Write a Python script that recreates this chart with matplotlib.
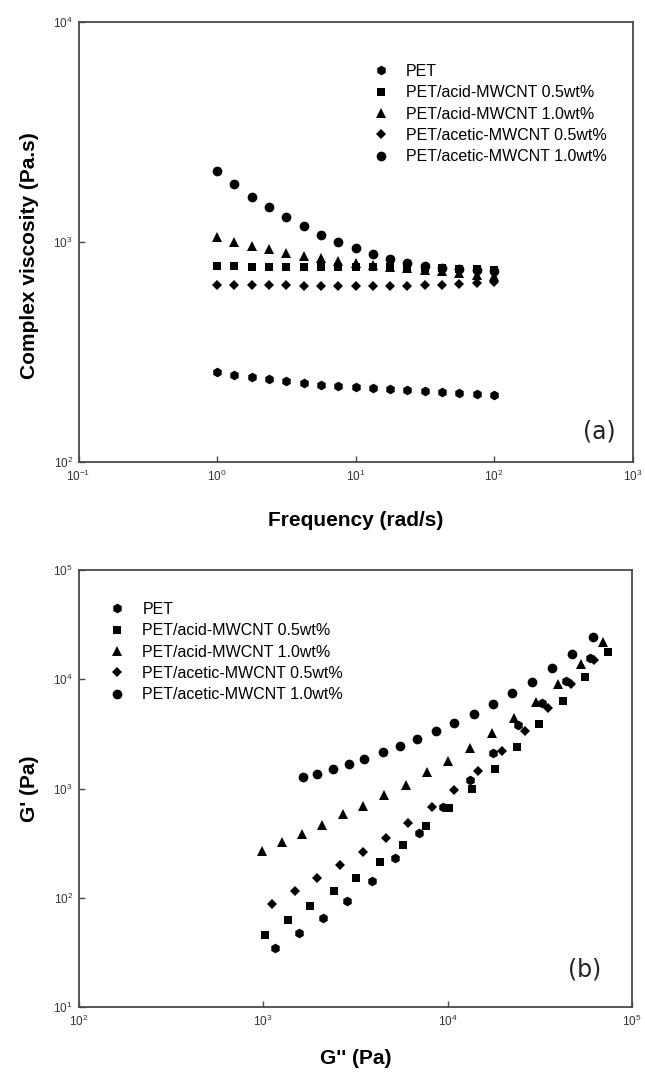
import matplotlib
matplotlib.use("Agg")
import matplotlib.pyplot as plt
from matplotlib.ticker import LogLocator, NullLocator

plt.rcParams['font.family'] = ['Liberation Sans', 'DejaVu Sans']
plt.rcParams['mathtext.fontset'] = 'custom'
plt.rcParams['mathtext.rm'] = 'Liberation Sans'
plt.rcParams['mathtext.it'] = 'Liberation Sans:italic'
plt.rcParams['mathtext.bf'] = 'Liberation Sans:bold'

labels = ["PET", "PET/acid-MWCNT 0.5wt%", "PET/acid-MWCNT 1.0wt%",
          "PET/acetic-MWCNT 0.5wt%", "PET/acetic-MWCNT 1.0wt%"]

# ---- (a) complex viscosity vs frequency ----
freq = [1.0, 1.33, 1.78, 2.37, 3.16, 4.22, 5.62, 7.50, 10.0, 13.3, 17.8,
        23.7, 31.6, 42.2, 56.2, 75.0, 100.0]
eta_pet = [257, 248, 243, 238, 234, 229, 224, 222, 220, 216, 214, 213, 211,
           209, 205, 203, 201]
eta_acid05 = [775, 775, 773, 773, 772, 772, 771, 770, 770, 769, 768, 766,
              764, 760, 757, 752, 748]
eta_acid10 = [1050, 1000, 961, 927, 893, 863, 843, 820, 800, 785, 773, 762,
              748, 735, 722, 710, 698]
eta_acetic05 = [638, 636, 636, 635, 635, 634, 632, 632, 632, 632, 633, 634,
                636, 640, 645, 650, 655]
eta_acetic10 = [2109, 1828, 1596, 1442, 1303, 1178, 1071, 1000, 943, 881,
                840, 806, 775, 760, 752, 746, 740]

# ---- (b) G' vs G'' ----
g2_pet = [1161, 1567, 2115, 2864, 3884, 5213, 7005, 9489, 13243, 17711,
          24105, 32525, 43882, 59209]
g1_pet = [34.5, 47.9, 64.9, 93.4, 143, 230, 391, 673, 1196, 2127, 3812,
          6062, 9638, 15648]
g2_acid05 = [1025, 1366, 1797, 2426, 3204, 4307, 5717, 7644, 10228, 13527,
             18025, 23890, 31445, 42427, 55832, 74370]
g1_acid05 = [45.6, 62.6, 84.0, 116, 151, 214, 306, 454, 659, 983, 1499,
             2413, 3869, 6323, 10551, 17758]
g2_acid10 = [991, 1263, 1633, 2096, 2707, 3505, 4554, 5959, 7775, 10099,
             13243, 17491, 22850, 30063, 39856, 52926, 69378]
g1_acid10 = [270, 322, 386, 466, 580, 696, 868, 1072, 1407, 1797, 2363,
             3201, 4390, 6230, 9049, 13702, 21928]
g2_acetic05 = [1123, 1485, 1962, 2604, 3496, 4624, 6132, 8241, 10845, 14578,
               19670, 26308, 35180, 46537, 62488]
g1_acetic05 = [87.7, 116, 153, 198, 264, 352, 480, 673, 969, 1446, 2204,
               3381, 5490, 8993, 15007]
g2_acetic10 = [1654, 1969, 2387, 2937, 3549, 4455, 5501, 6851, 8663, 10845,
               13868, 17711, 22365, 28815, 36853, 47292, 61235]
g1_acetic10 = [1266, 1349, 1518, 1665, 1862, 2172, 2434, 2839, 3359, 4002,
               4807, 5897, 7531, 9437, 12677, 16923, 24356]

styles = [dict(marker='h', ms=7.0), dict(marker='s', ms=6.3),
          dict(marker='^', ms=7.2), dict(marker='D', ms=5.0),
          dict(marker='o', ms=7.0)]

W, H = 645, 1078
fig = plt.figure(figsize=(W / 100, H / 100), dpi=100)

def px_axes(l, r, t, b):
    return fig.add_axes([l / W, 1 - b / H, (r - l) / W, (b - t) / H])

ax1 = px_axes(78.5, 632.5, 22, 462)
ax2 = px_axes(78.5, 632.0, 570, 1007)

frame_col = '#4a4a4a'
tick_col = '#333333'

def style_axes(ax, xlim, ylim):
    ax.set_xscale('log')
    ax.set_yscale('log')
    ax.set_xlim(*xlim)
    ax.set_ylim(*ylim)
    ax.xaxis.set_major_locator(LogLocator(base=10, numticks=10))
    ax.yaxis.set_major_locator(LogLocator(base=10, numticks=10))
    ax.xaxis.set_minor_locator(NullLocator())
    ax.yaxis.set_minor_locator(NullLocator())
    for s in ax.spines.values():
        s.set_color(frame_col)
        s.set_linewidth(1.3)
    ax.tick_params(axis='both', which='major', direction='in', length=4,
                   width=1.0, color=frame_col, labelsize=8.5,
                   labelcolor=tick_col, top=False, right=False)
    ax.tick_params(axis='x', pad=5)
    ax.tick_params(axis='y', pad=4)

def draw(ax, xs, ys):
    for x, y, st, lab in zip(xs, ys, styles, labels):
        ax.plot(x, y, linestyle='none', color='black', markeredgewidth=0,
                label=lab, **st)

style_axes(ax1, (0.1, 1000), (100, 10000))
draw(ax1, [freq] * 5, [eta_pet, eta_acid05, eta_acid10, eta_acetic05, eta_acetic10])
ax1.set_xlabel('Frequency (rad/s)', fontsize=15, fontweight='bold', labelpad=19)
ax1.set_ylabel('Complex viscosity (Pa.s)', fontsize=15, fontweight='bold', labelpad=10)
ax1.yaxis.label.set_y(0.47)
ax1.text(0.94, 0.07, '(a)', transform=ax1.transAxes, fontsize=17,
         family='DejaVu Sans', ha='center', va='center', color='#222222')
ax1.legend(loc='upper left', bbox_to_anchor=(0.531, 0.905), frameon=False,
           fontsize=11.5, handlelength=1.0, handletextpad=1.1,
           labelspacing=0.40, borderpad=0, borderaxespad=0, numpoints=1)

style_axes(ax2, (100, 100000), (10, 100000))
draw(ax2, [g2_pet, g2_acid05, g2_acid10, g2_acetic05, g2_acetic10],
     [g1_pet, g1_acid05, g1_acid10, g1_acetic05, g1_acetic10])
ax2.set_xlabel("G'' (Pa)", fontsize=15, fontweight='bold', labelpad=14)
ax2.set_ylabel("G' (Pa)", fontsize=15, fontweight='bold', labelpad=10)
ax2.text(0.915, 0.085, '(b)', transform=ax2.transAxes, fontsize=17,
         family='DejaVu Sans', ha='center', va='center', color='#222222')
ax2.legend(loc='upper left', bbox_to_anchor=(0.0546, 0.927), frameon=False,
           fontsize=11.5, handlelength=1.0, handletextpad=1.1,
           labelspacing=0.40, borderpad=0, borderaxespad=0, numpoints=1)

fig.savefig('out.png', dpi=100)
